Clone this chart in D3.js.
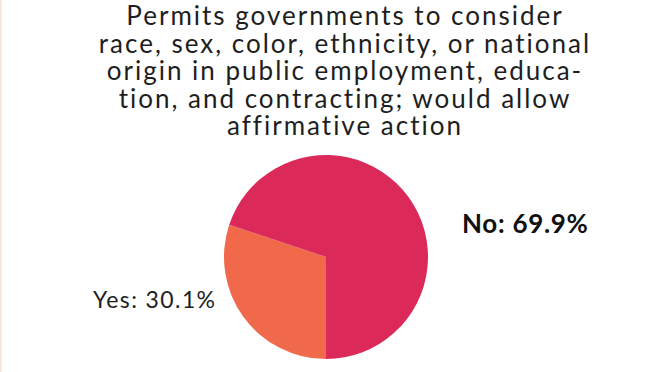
<!DOCTYPE html>
<html>
<head>
<meta charset="utf-8">
<script src="https://cdn.jsdelivr.net/npm/d3@7"></script>
<style>
  body { margin: 0; background: #fff; }
</style>
</head>
<body>
<div id="chart"></div>
<script>
// chart values
var titleLines = [
    "Permits governments to consider",
    "race, sex, color, ethnicity, or national",
    "origin in public employment, educa-",
    "tion, and contracting; would allow",
    "affirmative action"
];
var categories = ["Yes", "No"];
var shares = [30.1, 69.9];
var colors = ["#f0694b", "#db2a5a"];

window.onload = start;

function start() {
    var width = 661;
    var height = 372;

    var svg = d3.select("#chart")
        .append("svg")
        .attr("width", width)
        .attr("height", height);

    // faint strip on the left edge
    svg.append("rect")
        .attr("x", 0).attr("y", 0)
        .attr("width", 2).attr("height", height)
        .attr("fill", "#fbe6d8");

    // title, one text per line
    svg.selectAll("text.title")
        .data(titleLines)
        .enter()
        .append("text")
        .attr("class", "title")
        .attr("text-anchor", "middle")
        .attr("font-family", "Lato")
        .attr("font-size", 26)
        .attr("letter-spacing", 2)
        .attr("fill", "#1e1e1e")
        .attr("x", 345)
        .attr("y", function (d, i) { return 25 + i * 27.6; })
        .text(function (d) { return d; });

    // pie, starting at the bottom, going clockwise
    var pie = d3.pie()
        .sort(null)
        .startAngle(Math.PI)
        .endAngle(3 * Math.PI);

    var arc = d3.arc()
        .innerRadius(0)
        .outerRadius(102);

    var g = svg.append("g")
        .attr("transform", "translate(326,257)");

    g.selectAll("path")
        .data(pie(shares))
        .enter()
        .append("path")
        .attr("fill", function (d, i) { return colors[i]; })
        .attr("d", arc);

    // labels
    svg.append("text")
        .attr("x", 93)
        .attr("y", 308)
        .attr("font-family", "Lato")
        .attr("font-size", 23)
        .attr("letter-spacing", 1.4)
        .attr("fill", "#1e1e1e")
        .text(categories[0] + ": " + shares[0] + "%");

    svg.append("text")
        .attr("x", 462)
        .attr("y", 233)
        .attr("font-family", "Lato")
        .attr("font-weight", "bold")
        .attr("font-size", 26)
        .attr("letter-spacing", 0.7)
        .attr("fill", "#111")
        .text(categories[1] + ": " + shares[1] + "%");
}
</script>
</body>
</html>
